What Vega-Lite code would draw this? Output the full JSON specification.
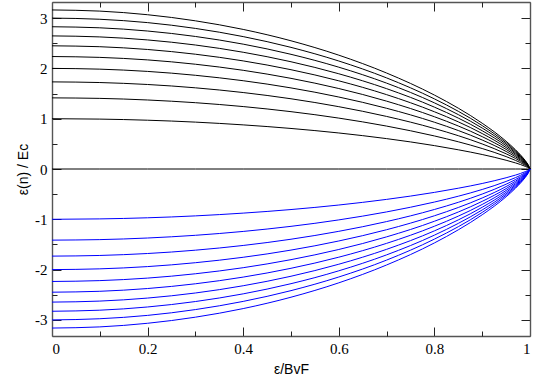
{
  "$schema": "https://vega.github.io/schema/vega-lite/v6.json",
  "width": 478,
  "height": 334,
  "autosize": {"type": "none"},
  "padding": {"left": 52, "top": 2, "right": 15, "bottom": 45},
  "background": "white",
  "datasets": {
    "upper": [
      {"x": 0, "z": 0, "n1": 1, "n2": 1.414, "n3": 1.732, "n4": 2, "n5": 2.236, "n6": 2.449, "n7": 2.646, "n8": 2.828, "n9": 3, "n10": 3.162},
      {"x": 0.1, "z": 0, "n1": 0.992, "n2": 1.404, "n3": 1.719, "n4": 1.985, "n5": 2.219, "n6": 2.431, "n7": 2.626, "n8": 2.807, "n9": 2.977, "n10": 3.139},
      {"x": 0.2, "z": 0, "n1": 0.970, "n2": 1.372, "n3": 1.680, "n4": 1.940, "n5": 2.169, "n6": 2.376, "n7": 2.566, "n8": 2.743, "n9": 2.910, "n10": 3.067},
      {"x": 0.3, "z": 0, "n1": 0.932, "n2": 1.318, "n3": 1.614, "n4": 1.863, "n5": 2.083, "n6": 2.282, "n7": 2.465, "n8": 2.635, "n9": 2.795, "n10": 2.946},
      {"x": 0.4, "z": 0, "n1": 0.877, "n2": 1.241, "n3": 1.520, "n4": 1.755, "n5": 1.962, "n6": 2.149, "n7": 2.321, "n8": 2.482, "n9": 2.632, "n10": 2.775},
      {"x": 0.5, "z": 0, "n1": 0.806, "n2": 1.140, "n3": 1.396, "n4": 1.612, "n5": 1.802, "n6": 1.974, "n7": 2.132, "n8": 2.280, "n9": 2.418, "n10": 2.549},
      {"x": 0.6, "z": 0, "n1": 0.716, "n2": 1.012, "n3": 1.239, "n4": 1.431, "n5": 1.600, "n6": 1.753, "n7": 1.893, "n8": 2.024, "n9": 2.147, "n10": 2.263},
      {"x": 0.7, "z": 0, "n1": 0.604, "n2": 0.853, "n3": 1.045, "n4": 1.207, "n5": 1.349, "n6": 1.478, "n7": 1.597, "n8": 1.707, "n9": 1.811, "n10": 1.908},
      {"x": 0.8, "z": 0, "n1": 0.465, "n2": 0.657, "n3": 0.805, "n4": 0.930, "n5": 1.039, "n6": 1.138, "n7": 1.230, "n8": 1.315, "n9": 1.394, "n10": 1.470},
      {"x": 0.85, "z": 0, "n1": 0.382, "n2": 0.541, "n3": 0.662, "n4": 0.765, "n5": 0.855, "n6": 0.937, "n7": 1.012, "n8": 1.081, "n9": 1.147, "n10": 1.209},
      {"x": 0.9, "z": 0, "n1": 0.288, "n2": 0.407, "n3": 0.498, "n4": 0.576, "n5": 0.643, "n6": 0.705, "n7": 0.761, "n8": 0.814, "n9": 0.863, "n10": 0.910},
      {"x": 0.95, "z": 0, "n1": 0.174, "n2": 0.247, "n3": 0.302, "n4": 0.349, "n5": 0.390, "n6": 0.427, "n7": 0.462, "n8": 0.494, "n9": 0.523, "n10": 0.552},
      {"x": 0.97, "z": 0, "n1": 0.120, "n2": 0.170, "n3": 0.208, "n4": 0.240, "n5": 0.268, "n6": 0.294, "n7": 0.317, "n8": 0.339, "n9": 0.360, "n10": 0.379},
      {"x": 0.98, "z": 0, "n1": 0.089, "n2": 0.126, "n3": 0.154, "n4": 0.178, "n5": 0.198, "n6": 0.217, "n7": 0.235, "n8": 0.251, "n9": 0.266, "n10": 0.281},
      {"x": 0.99, "z": 0, "n1": 0.053, "n2": 0.075, "n3": 0.092, "n4": 0.106, "n5": 0.118, "n6": 0.130, "n7": 0.140, "n8": 0.150, "n9": 0.159, "n10": 0.168},
      {"x": 0.995, "z": 0, "n1": 0.032, "n2": 0.045, "n3": 0.055, "n4": 0.063, "n5": 0.071, "n6": 0.077, "n7": 0.084, "n8": 0.089, "n9": 0.095, "n10": 0.100},
      {"x": 1, "z": 0, "n1": 0, "n2": 0, "n3": 0, "n4": 0, "n5": 0, "n6": 0, "n7": 0, "n8": 0, "n9": 0, "n10": 0}
    ],
    "lower": [
      {"x": 0, "n1": -1, "n2": -1.414, "n3": -1.732, "n4": -2, "n5": -2.236, "n6": -2.449, "n7": -2.646, "n8": -2.828, "n9": -3, "n10": -3.162},
      {"x": 0.1, "n1": -0.992, "n2": -1.404, "n3": -1.719, "n4": -1.985, "n5": -2.219, "n6": -2.431, "n7": -2.626, "n8": -2.807, "n9": -2.977, "n10": -3.139},
      {"x": 0.2, "n1": -0.970, "n2": -1.372, "n3": -1.680, "n4": -1.940, "n5": -2.169, "n6": -2.376, "n7": -2.566, "n8": -2.743, "n9": -2.910, "n10": -3.067},
      {"x": 0.3, "n1": -0.932, "n2": -1.318, "n3": -1.614, "n4": -1.863, "n5": -2.083, "n6": -2.282, "n7": -2.465, "n8": -2.635, "n9": -2.795, "n10": -2.946},
      {"x": 0.4, "n1": -0.877, "n2": -1.241, "n3": -1.520, "n4": -1.755, "n5": -1.962, "n6": -2.149, "n7": -2.321, "n8": -2.482, "n9": -2.632, "n10": -2.775},
      {"x": 0.5, "n1": -0.806, "n2": -1.140, "n3": -1.396, "n4": -1.612, "n5": -1.802, "n6": -1.974, "n7": -2.132, "n8": -2.280, "n9": -2.418, "n10": -2.549},
      {"x": 0.6, "n1": -0.716, "n2": -1.012, "n3": -1.239, "n4": -1.431, "n5": -1.600, "n6": -1.753, "n7": -1.893, "n8": -2.024, "n9": -2.147, "n10": -2.263},
      {"x": 0.7, "n1": -0.604, "n2": -0.853, "n3": -1.045, "n4": -1.207, "n5": -1.349, "n6": -1.478, "n7": -1.597, "n8": -1.707, "n9": -1.811, "n10": -1.908},
      {"x": 0.8, "n1": -0.465, "n2": -0.657, "n3": -0.805, "n4": -0.930, "n5": -1.039, "n6": -1.138, "n7": -1.230, "n8": -1.315, "n9": -1.394, "n10": -1.470},
      {"x": 0.85, "n1": -0.382, "n2": -0.541, "n3": -0.662, "n4": -0.765, "n5": -0.855, "n6": -0.937, "n7": -1.012, "n8": -1.081, "n9": -1.147, "n10": -1.209},
      {"x": 0.9, "n1": -0.288, "n2": -0.407, "n3": -0.498, "n4": -0.576, "n5": -0.643, "n6": -0.705, "n7": -0.761, "n8": -0.814, "n9": -0.863, "n10": -0.910},
      {"x": 0.95, "n1": -0.174, "n2": -0.247, "n3": -0.302, "n4": -0.349, "n5": -0.390, "n6": -0.427, "n7": -0.462, "n8": -0.494, "n9": -0.523, "n10": -0.552},
      {"x": 0.97, "n1": -0.120, "n2": -0.170, "n3": -0.208, "n4": -0.240, "n5": -0.268, "n6": -0.294, "n7": -0.317, "n8": -0.339, "n9": -0.360, "n10": -0.379},
      {"x": 0.98, "n1": -0.089, "n2": -0.126, "n3": -0.154, "n4": -0.178, "n5": -0.198, "n6": -0.217, "n7": -0.235, "n8": -0.251, "n9": -0.266, "n10": -0.281},
      {"x": 0.99, "n1": -0.053, "n2": -0.075, "n3": -0.092, "n4": -0.106, "n5": -0.118, "n6": -0.130, "n7": -0.140, "n8": -0.150, "n9": -0.159, "n10": -0.168},
      {"x": 0.995, "n1": -0.032, "n2": -0.045, "n3": -0.055, "n4": -0.063, "n5": -0.071, "n6": -0.077, "n7": -0.084, "n8": -0.089, "n9": -0.095, "n10": -0.100},
      {"x": 1, "n1": 0, "n2": 0, "n3": 0, "n4": 0, "n5": 0, "n6": 0, "n7": 0, "n8": 0, "n9": 0, "n10": 0}
    ]
  },
  "config": {
    "view": {"stroke": null},
    "axis": {
      "grid": false,
      "domainColor": "#555555",
      "domainWidth": 1.4,
      "tickColor": "#222222",
      "tickWidth": 1,
      "labelFont": "Liberation Serif",
      "labelFontSize": 15,
      "labelColor": "#000000",
      "titleFont": "Liberation Sans",
      "titleFontSize": 14,
      "titleFontWeight": "normal",
      "titleColor": "#000000"
    }
  },
  "resolve": {"axis": {"x": "independent", "y": "independent"}},
  "layer": [
    {
      "data": {"name": "upper"},
      "transform": [{"fold": ["z", "n1", "n2", "n3", "n4", "n5", "n6", "n7", "n8", "n9", "n10"], "as": ["curve", "val"]}],
      "mark": {"type": "line", "color": "#000000", "strokeWidth": 1, "interpolate": "monotone"},
      "encoding": {
        "x": {"field": "x", "type": "quantitative", "scale": {"domain": [0, 1], "nice": false, "zero": false},
          "axis": {"orient": "bottom", "title": "ε/BvF", "values": [0, 0.2, 0.4, 0.6, 0.8, 1], "tickSize": -9, "labelPadding": 14, "labelExpr": "toString(datum.value)", "titlePadding": 6}},
        "y": {"field": "val", "type": "quantitative", "scale": {"domain": [-3.32, 3.32], "nice": false, "zero": false},
          "axis": {"orient": "left", "title": "ε(n) / Ec", "values": [-3, -2, -1, 0, 1, 2, 3], "tickSize": -9, "labelPadding": 14, "labelExpr": "toString(datum.value)", "titlePadding": 4}},
        "detail": {"field": "curve", "type": "nominal"}
      }
    },
    {
      "data": {"name": "lower"},
      "transform": [{"fold": ["n1", "n2", "n3", "n4", "n5", "n6", "n7", "n8", "n9", "n10"], "as": ["curve", "val"]}],
      "mark": {"type": "line", "color": "#0000ff", "strokeWidth": 1, "interpolate": "monotone"},
      "encoding": {
        "x": {"field": "x", "type": "quantitative", "scale": {"domain": [0, 1], "nice": false, "zero": false},
          "axis": {"orient": "bottom", "title": null, "values": [0.1, 0.3, 0.5, 0.7, 0.9], "tickSize": -5, "labels": false, "domain": false}},
        "y": {"field": "val", "type": "quantitative", "scale": {"domain": [-3.32, 3.32], "nice": false, "zero": false},
          "axis": {"orient": "left", "title": null, "values": [-2.5, -1.5, -0.5, 0.5, 1.5, 2.5], "tickSize": -5, "labels": false, "domain": false}},
        "detail": {"field": "curve", "type": "nominal"}
      }
    },
    {
      "data": {"name": "upper"},
      "mark": {"type": "line", "opacity": 0},
      "encoding": {
        "x": {"field": "x", "type": "quantitative", "scale": {"domain": [0, 1], "nice": false, "zero": false},
          "axis": {"orient": "top", "title": null, "values": [0, 0.2, 0.4, 0.6, 0.8, 1], "tickSize": -9, "labels": false}},
        "y": {"field": "z", "type": "quantitative", "scale": {"domain": [-3.32, 3.32], "nice": false, "zero": false},
          "axis": {"orient": "right", "title": null, "values": [-3, -2, -1, 0, 1, 2, 3], "tickSize": -9, "labels": false}}
      }
    },
    {
      "data": {"name": "upper"},
      "mark": {"type": "line", "opacity": 0},
      "encoding": {
        "x": {"field": "x", "type": "quantitative", "scale": {"domain": [0, 1], "nice": false, "zero": false},
          "axis": {"orient": "top", "title": null, "values": [0.1, 0.3, 0.5, 0.7, 0.9], "tickSize": -5, "labels": false, "domain": false}},
        "y": {"field": "z", "type": "quantitative", "scale": {"domain": [-3.32, 3.32], "nice": false, "zero": false},
          "axis": {"orient": "right", "title": null, "values": [-2.5, -1.5, -0.5, 0.5, 1.5, 2.5], "tickSize": -5, "labels": false, "domain": false}}
      }
    }
  ]
}
